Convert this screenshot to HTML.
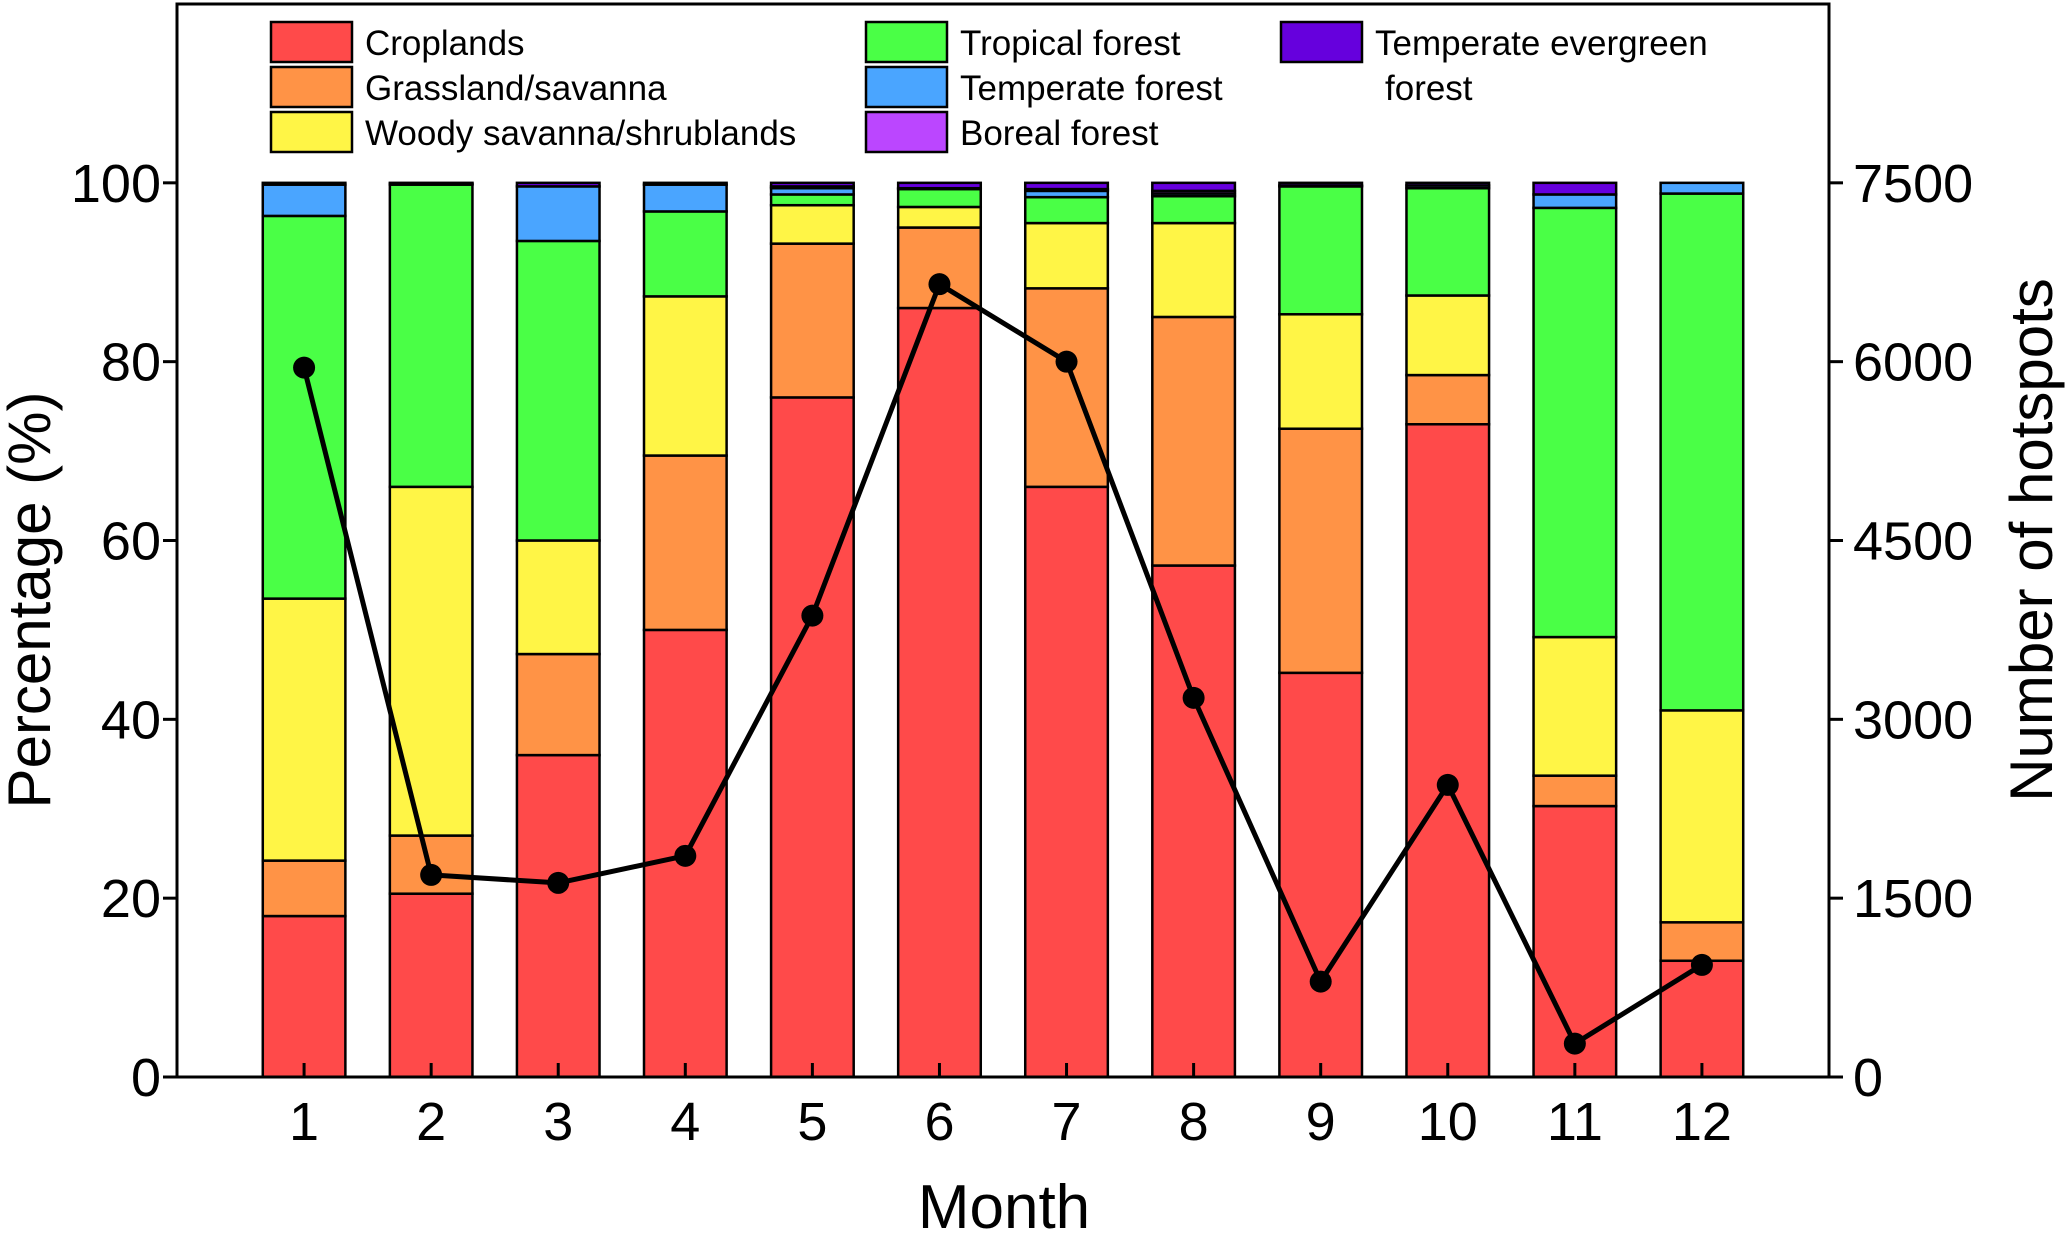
<!DOCTYPE html>
<html><head><meta charset="utf-8"><style>
html,body{margin:0;padding:0;background:#fff}
svg{display:block;font-family:"Liberation Sans",Arial,sans-serif}
</style></head><body>
<svg id="chart" width="2067" height="1235" viewBox="0 0 2067 1235" xmlns="http://www.w3.org/2000/svg">
<g id="bars"></g>
<g id="line"></g>
<g id="axes"></g>
<g id="legend"></g>
</svg>
<script>
const months = [1,2,3,4,5,6,7,8,9,10,11,12];
const seriesNames = ["Croplands","Grassland/savanna","Woody savanna/shrublands","Tropical forest","Temperate forest","Boreal forest","Temperate evergreen forest"];
const croplands = [18,20.5,36,50,76,86,66,57.2,45.2,73,30.3,13];
const grassland = [6.2,6.5,11.3,19.5,17.2,9,22.2,27.8,27.3,5.5,3.4,4.3];
const woody = [29.3,39,12.7,17.8,4.3,2.3,7.3,10.5,12.8,8.9,15.5,23.7];
const tropical = [42.8,33.8,33.5,9.5,1.2,2,2.9,3.0,14.3,12.0,48,57.8];
const temperate = [3.5,0.1,6.1,3,0.7,0.1,0.7,0.3,0.1,0.3,1.5,1.2];
const boreal = [0,0,0,0,0.2,0,0.2,0.3,0,0,0,0];
const evergreen = [0.2,0.1,0.4,0.2,0.4,0.6,0.7,0.9,0.3,0.3,1.3,0];
const hotspots = [5950,1695,1628,1855,3870,6650,6000,3180,800,2450,280,940];
const leftTicks = [0,20,40,60,80,100];
const rightTicks = [0,1500,3000,4500,6000,7500];

const colors = ["#FF4A4A","#FF9346","#FFF546","#4AFF46","#4AA5FF","#BB46FF","#6600DD"];
const seriesData = [croplands,grassland,woody,tropical,temperate,boreal,evergreen];
const NS = "http://www.w3.org/2000/svg";
const L=177, R=1829, T=4, B=1077;
const xS = v => L + (v/13)*(R-L);
const yS = v => B - (v/120)*(B-T);
const y2S = v => B - (v/9000)*(B-T);
const bw = 0.65*(R-L)/13;
function mk(tag, attrs, parent){const e=document.createElementNS(NS,tag);for(const k in attrs)e.setAttribute(k,attrs[k]);parent.appendChild(e);return e;}

const gb = document.getElementById('bars');
months.forEach((m,i)=>{
  let cum=0;
  seriesData.forEach((s,j)=>{
    const v=s[i]; if(v<=0) return;
    const r=mk('rect',{x:xS(m)-bw/2,y:yS(cum+v),width:bw,height:yS(cum)-yS(cum+v),fill:colors[j],stroke:'#000','stroke-width':2.5},gb);
    
    
    cum+=v;
  });
});

const gl = document.getElementById('line');
const pl = mk('polyline',{points:months.map((m,i)=>xS(m)+','+y2S(hotspots[i])).join(' '),fill:'none',stroke:'#000','stroke-width':5,'stroke-linejoin':'round'},gl);


months.forEach((m,i)=>{
  const c=mk('circle',{cx:xS(m),cy:y2S(hotspots[i]),r:11,fill:'#000'},gl);
  
  
});

const ga = document.getElementById('axes');
const fr = mk('rect',{x:L,y:T,width:R-L,height:B-T,fill:'none',stroke:'#000','stroke-width':3},ga);


leftTicks.forEach(t=>{
  const y=yS(t);
  mk('line',{x1:L-14,x2:L,y1:y,y2:y,stroke:'#000','stroke-width':3},ga);
  const tx=mk('text',{x:161,y:y+19,'text-anchor':'end','font-size':54},ga);
  tx.textContent=t;
  
  
});
rightTicks.forEach(t=>{
  const y=y2S(t);
  mk('line',{x1:R,x2:R+14,y1:y,y2:y,stroke:'#000','stroke-width':3},ga);
  const tx=mk('text',{x:1853,y:y+19,'text-anchor':'start','font-size':54},ga);
  tx.textContent=t;
  
  
});
months.forEach(m=>{
  const x=xS(m);
  mk('line',{x1:x,x2:x,y1:B-14,y2:B,stroke:'#000','stroke-width':3},ga);
  const tx=mk('text',{x:x,y:1140,'text-anchor':'middle','font-size':54},ga);
  tx.textContent=m;
  
  
});
let t1=mk('text',{x:0,y:0,'text-anchor':'middle','font-size':60,transform:'translate(50,600) rotate(-90)'},ga);
t1.textContent='Percentage (%)';


let t2=mk('text',{x:0,y:0,'text-anchor':'middle','font-size':60,transform:'translate(2052,540) rotate(-90)'},ga);
t2.textContent='Number of hotspots';


let t3=mk('text',{x:1004,y:1228,'text-anchor':'middle','font-size':62},ga);
t3.textContent='Month';



const lg = document.getElementById('legend');
const legPos = [[271,22],[271,67],[271,112],[866,22],[866,67],[866,112],[1281,22]];
seriesNames.forEach((n,j)=>{
  const [x,y]=legPos[j];
  const sw=mk('rect',{x:x,y:y,width:81,height:40,fill:colors[j],stroke:'#000','stroke-width':2.5},lg);
  
  
  const tx=mk('text',{x:x+94,y:y+33,'font-size':35},lg);
  tx.textContent = j===6 ? 'Temperate evergreen' : n;
  
  
});
const tf=mk('text',{x:1385,y:100,'font-size':35},lg);
tf.textContent='forest';


</script>
</body></html>
